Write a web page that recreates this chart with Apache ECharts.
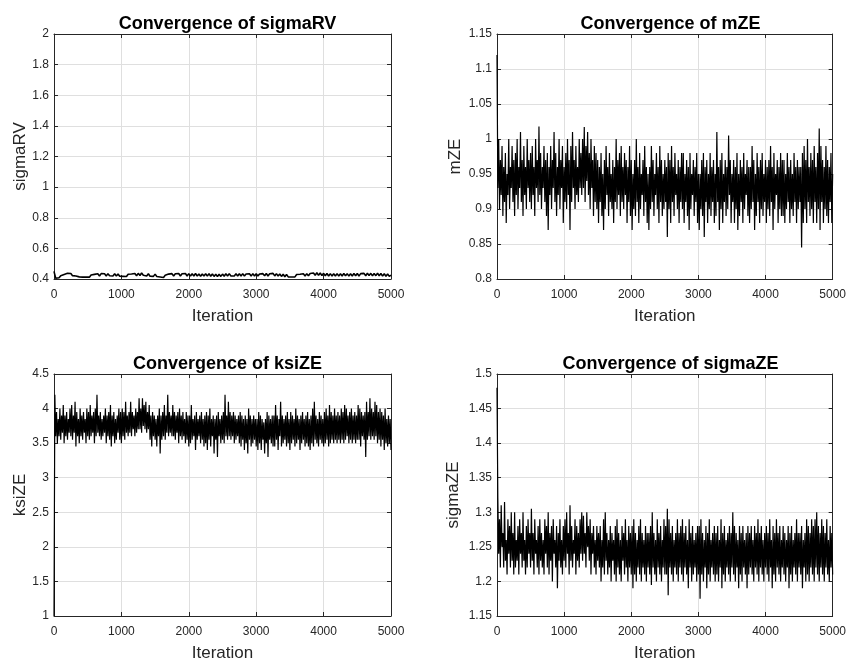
<!DOCTYPE html>
<html>
<head>
<meta charset="utf-8">
<script src="https://cdn.jsdelivr.net/npm/echarts@6/dist/echarts.min.js"></script>
<style>
html,body{margin:0;padding:0;background:#fff;}
#chart{width:849px;height:663px;}
</style>
</head>
<body>
<div id="chart"></div>
<script>
// ---- data (one sample every iterStep[i] iterations) ----
const iterStep = [25, 12.5, 12.5, 12.5];
const xTicks = [0, 1000, 2000, 3000, 4000, 5000];

const titles = ["Convergence of sigmaRV", "Convergence of mZE", "Convergence of ksiZE", "Convergence of sigmaZE"];
const yNames = ["sigmaRV", "mZE", "ksiZE", "sigmaZE"];
const yMin = [0.4, 0.8, 1, 1.15];
const yMax = [2, 1.15, 4.5, 1.5];
const yStep = [0.2, 0.05, 0.5, 0.05];

const sigmaRV = [
0.45,0.405,0.418,0.408,0.422,0.418,0.43,0.422,0.437,0.424,
0.436,0.422,0.434,0.42,0.428,0.414,0.425,0.412,0.424,0.413,
0.423,0.412,0.426,0.416,0.43,0.42,0.434,0.42,0.435,0.422,
0.434,0.42,0.435,0.421,0.433,0.42,0.434,0.419,0.433,0.418,
0.431,0.417,0.43,0.416,0.431,0.418,0.433,0.42,0.436,0.421,
0.437,0.423,0.439,0.424,0.437,0.42,0.434,0.418,0.431,0.417,
0.432,0.416,0.429,0.413,0.426,0.41,0.424,0.412,0.432,0.419,
0.435,0.42,0.434,0.421,0.436,0.42,0.434,0.421,0.436,0.42,
0.435,0.419,0.434,0.42,0.436,0.419,0.433,0.418,0.433,0.419,
0.434,0.419,0.435,0.418,0.433,0.417,0.431,0.416,0.431,0.417,
0.432,0.418,0.434,0.42,0.435,0.42,0.433,0.42,0.434,0.419,
0.434,0.42,0.435,0.419,0.433,0.42,0.434,0.419,0.435,0.42,
0.434,0.419,0.433,0.42,0.435,0.421,0.436,0.42,0.434,0.421,
0.437,0.42,0.435,0.419,0.433,0.417,0.431,0.415,0.429,0.414,
0.427,0.413,0.426,0.414,0.429,0.416,0.431,0.418,0.434,0.42,
0.435,0.421,0.436,0.423,0.439,0.425,0.441,0.424,0.439,0.422,
0.437,0.421,0.436,0.42,0.435,0.419,0.434,0.42,0.435,0.42,
0.434,0.42,0.436,0.421,0.435,0.419,0.434,0.42,0.436,0.421,
0.436,0.42,0.435,0.422,0.437,0.421,0.438,0.422,0.437,0.421,
0.436,0.422,0.438,0.421,0.436,0.419,0.434,0.418,0.433,0.417,
0.425
];

const mZE = [
1.12,
0.93,1.00,0.90,0.97,0.92,0.99,0.89,0.96,0.91,0.98,0.88,0.95,0.92,1.00,0.90,0.96,0.93,0.99,0.91,0.97,
0.89,0.98,0.92,1.00,0.90,0.96,0.93,1.01,0.91,0.97,0.89,0.99,0.92,0.96,0.90,1.00,0.93,0.97,0.91,0.98,
0.90,0.99,0.92,0.96,0.89,1.00,0.93,0.97,0.91,1.018,0.92,0.98,0.90,0.96,0.93,0.99,0.91,0.97,0.89,0.98,
0.87,0.96,0.92,0.99,0.90,0.97,0.93,1.01,0.91,0.98,0.89,0.96,0.92,1.00,0.90,0.97,0.93,0.99,0.88,0.96,
0.91,0.98,0.90,1.00,0.92,0.97,0.87,0.99,0.91,1.01,0.93,0.97,0.90,0.99,0.92,0.96,0.91,1.00,0.93,0.98,
0.92,1.00,0.93,1.017,0.91,0.99,0.94,1.01,0.92,0.98,0.90,1.00,0.93,0.97,0.89,0.99,0.91,0.98,0.90,0.97,
0.88,0.96,0.91,0.98,0.89,0.95,0.87,0.97,0.90,0.99,0.92,0.96,0.89,0.98,0.91,0.95,0.90,0.97,0.88,0.96,
0.91,1.00,0.90,0.97,0.92,0.98,0.89,0.99,0.91,0.96,0.90,0.98,0.92,0.97,0.88,0.96,0.91,0.99,0.89,0.97,
0.87,0.95,0.90,0.97,0.89,1.00,0.91,0.96,0.88,0.98,0.90,0.95,0.92,0.97,0.89,0.99,0.91,0.96,0.88,0.95,
0.87,0.96,0.90,0.99,0.91,0.97,0.89,0.95,0.92,0.98,0.90,0.96,0.88,0.99,0.91,0.97,0.89,0.95,0.90,0.97,
0.91,0.96,0.86,0.98,0.90,0.97,0.88,0.99,0.91,0.96,0.89,0.98,0.92,0.95,0.90,0.97,0.88,0.96,0.91,0.98,
0.90,0.98,0.88,0.95,0.91,0.97,0.89,0.96,0.87,0.98,0.90,0.95,0.92,0.97,0.89,0.96,0.91,0.98,0.88,0.95,
0.87,0.95,0.90,0.97,0.89,0.98,0.86,0.96,0.91,0.97,0.88,0.95,0.90,0.98,0.89,0.96,0.91,0.97,0.88,0.95,
0.89,1.01,0.91,0.96,0.87,0.97,0.90,0.98,0.88,0.95,0.91,0.97,0.89,0.96,0.90,1.005,0.92,0.97,0.88,0.95,
0.91,0.97,0.88,0.96,0.90,0.98,0.87,0.95,0.89,0.97,0.91,0.96,0.88,0.98,0.90,0.95,0.92,0.97,0.89,0.96,
0.88,0.96,0.90,0.99,0.91,0.97,0.87,0.95,0.89,0.98,0.91,0.96,0.88,0.97,0.90,0.98,0.89,0.95,0.91,0.97,
0.88,0.96,0.90,0.97,0.89,0.99,0.91,0.96,0.87,0.98,0.90,0.95,0.92,0.97,0.88,0.96,0.90,0.98,0.89,0.97,
0.89,0.97,0.88,0.95,0.90,0.98,0.91,0.96,0.88,0.97,0.90,0.95,0.89,0.98,0.91,0.96,0.88,0.97,0.90,0.96,
0.91,0.96,0.845,0.98,0.88,0.99,0.90,0.97,0.88,1.00,0.91,0.96,0.89,0.98,0.90,0.97,0.88,0.99,0.91,0.96,
0.88,0.98,0.90,1.015,0.87,0.99,0.91,0.97,0.88,0.96,0.90,0.99,0.89,0.97,0.88,0.96,0.91,0.98,0.88,0.95
];

const ksiZE = [
1.0,
4.2,3.6,3.95,3.5,3.85,3.6,4.0,3.55,3.9,3.65,4.05,3.5,3.9,3.6,3.95,3.55,3.85,3.65,4.0,3.6,
4.05,3.55,3.9,3.65,4.1,3.45,3.95,3.6,3.85,3.5,4.0,3.6,3.9,3.55,3.95,3.65,3.85,3.5,4.0,3.6,
3.95,3.55,4.05,3.6,3.9,3.65,3.95,3.5,4.0,3.6,4.2,3.65,3.9,3.6,3.95,3.55,3.85,3.6,3.9,3.65,
4.0,3.5,3.9,3.6,3.95,3.55,4.05,3.45,3.9,3.6,3.95,3.5,3.85,3.55,3.9,3.65,4.0,3.55,3.95,3.5,
4.0,3.6,3.95,3.55,4.1,3.65,3.9,3.6,3.95,3.65,4.1,3.6,3.95,3.7,3.9,3.6,4.0,3.65,3.95,3.7,
4.15,3.7,4.0,3.65,4.15,3.75,4.05,3.7,4.1,3.65,3.95,3.7,4.05,3.55,3.9,3.45,3.95,3.6,3.9,3.55,
3.85,3.45,3.9,3.6,4.0,3.35,3.9,3.55,3.95,3.6,4.05,3.55,3.9,3.65,4.2,3.6,3.95,3.65,3.9,3.6,
4.05,3.6,3.95,3.55,3.9,3.65,3.95,3.5,4.0,3.6,3.9,3.55,3.95,3.6,3.85,3.5,3.95,3.55,3.9,3.45,
3.9,3.5,4.05,3.55,3.85,3.6,3.9,3.4,3.95,3.55,3.85,3.6,3.9,3.5,3.95,3.55,3.85,3.45,3.9,3.5,
3.95,3.4,3.9,3.55,4.0,3.45,3.85,3.6,3.9,3.35,3.85,3.55,3.9,3.3,3.95,3.6,3.85,3.5,3.9,3.55,
3.95,3.5,4.2,3.6,3.9,3.55,4.1,3.6,3.95,3.55,3.9,3.6,3.95,3.5,3.9,3.55,3.85,3.6,3.9,3.5,
3.95,3.45,3.9,3.55,3.85,3.4,3.9,3.5,3.85,3.35,4.0,3.55,3.9,3.45,3.85,3.5,3.9,3.55,3.85,3.45,
3.85,3.4,3.95,3.5,3.9,3.4,3.85,3.55,3.8,3.35,3.85,3.5,3.95,3.3,3.9,3.55,3.85,3.5,3.9,3.45,
3.9,3.45,4.05,3.55,3.9,3.4,3.85,3.6,4.1,3.45,3.9,3.5,3.85,3.55,3.9,3.45,3.95,3.5,3.85,3.4,
3.95,3.5,3.9,3.55,3.85,3.45,4.0,3.5,3.9,3.55,3.85,3.4,3.9,3.5,3.95,3.55,3.85,3.45,3.9,3.5,
3.95,3.45,3.85,3.4,3.9,3.5,4.0,3.45,4.1,3.55,3.9,3.5,3.85,3.45,3.95,3.55,3.9,3.5,3.85,3.45,
3.95,3.5,4.0,3.55,3.9,3.45,4.05,3.5,3.95,3.55,3.9,3.5,4.0,3.55,3.9,3.5,3.95,3.55,3.9,3.5,
4.0,3.55,3.95,3.5,4.05,3.55,4.0,3.6,3.9,3.5,3.95,3.55,4.0,3.5,3.9,3.55,3.95,3.5,3.9,3.55,
4.05,3.55,4.0,3.45,3.95,3.6,3.9,3.55,3.95,3.3,4.1,3.55,3.95,3.6,4.15,3.55,4.0,3.6,3.95,3.55,
4.1,3.6,4.05,3.5,3.95,3.55,4.0,3.45,3.95,3.55,3.9,3.4,4.0,3.5,3.85,3.45,3.9,3.5,3.85,3.4
];

const sigmaZE = [
1.48,
1.32,1.24,1.29,1.22,1.31,1.25,1.27,1.22,1.315,1.23,1.26,1.21,1.29,1.24,1.28,1.22,1.30,1.23,1.27,1.21,
1.30,1.22,1.26,1.23,1.28,1.21,1.29,1.24,1.27,1.22,1.30,1.23,1.26,1.21,1.28,1.22,1.29,1.24,1.27,1.22,
1.305,1.23,1.27,1.21,1.29,1.24,1.26,1.22,1.28,1.21,1.29,1.23,1.27,1.22,1.26,1.21,1.29,1.24,1.28,1.22,
1.30,1.21,1.27,1.23,1.28,1.20,1.29,1.24,1.26,1.22,1.28,1.19,1.27,1.23,1.29,1.22,1.26,1.21,1.28,1.23,
1.29,1.22,1.30,1.24,1.27,1.21,1.31,1.23,1.28,1.22,1.26,1.24,1.29,1.21,1.28,1.23,1.27,1.22,1.29,1.24,
1.30,1.23,1.295,1.24,1.27,1.22,1.30,1.25,1.28,1.23,1.29,1.21,1.27,1.24,1.28,1.22,1.26,1.21,1.28,1.23,
1.27,1.22,1.28,1.20,1.26,1.22,1.29,1.21,1.30,1.23,1.27,1.21,1.26,1.22,1.28,1.20,1.27,1.23,1.26,1.21,
1.28,1.20,1.29,1.22,1.27,1.21,1.26,1.20,1.28,1.23,1.27,1.21,1.29,1.22,1.26,1.20,1.28,1.22,1.27,1.21,
1.28,1.19,1.29,1.21,1.27,1.20,1.26,1.22,1.28,1.21,1.29,1.20,1.27,1.22,1.26,1.21,1.28,1.20,1.27,1.22,
1.27,1.21,1.28,1.195,1.30,1.22,1.27,1.21,1.26,1.20,1.29,1.22,1.27,1.21,1.28,1.20,1.26,1.22,1.29,1.21,
1.28,1.21,1.305,1.18,1.29,1.22,1.27,1.21,1.28,1.20,1.26,1.22,1.27,1.21,1.29,1.20,1.27,1.22,1.28,1.21,
1.29,1.20,1.27,1.22,1.28,1.21,1.26,1.19,1.29,1.22,1.27,1.20,1.28,1.21,1.26,1.22,1.27,1.20,1.28,1.21,
1.28,1.175,1.29,1.21,1.27,1.20,1.26,1.22,1.28,1.19,1.27,1.21,1.29,1.20,1.26,1.22,1.27,1.21,1.28,1.20,
1.27,1.21,1.28,1.20,1.26,1.22,1.29,1.19,1.27,1.21,1.28,1.20,1.26,1.22,1.27,1.21,1.28,1.20,1.27,1.22,
1.30,1.21,1.28,1.20,1.27,1.22,1.26,1.19,1.28,1.21,1.27,1.20,1.28,1.22,1.26,1.21,1.27,1.19,1.28,1.21,
1.27,1.22,1.28,1.21,1.26,1.20,1.28,1.22,1.27,1.21,1.29,1.20,1.27,1.22,1.28,1.21,1.26,1.20,1.27,1.22,
1.28,1.21,1.27,1.20,1.29,1.22,1.26,1.19,1.28,1.21,1.27,1.20,1.29,1.22,1.27,1.21,1.28,1.20,1.26,1.22,
1.28,1.21,1.27,1.20,1.26,1.22,1.28,1.19,1.27,1.21,1.28,1.20,1.26,1.22,1.27,1.21,1.29,1.20,1.27,1.22,
1.27,1.21,1.28,1.19,1.26,1.22,1.27,1.20,1.29,1.21,1.28,1.20,1.27,1.22,1.29,1.21,1.28,1.20,1.29,1.22,
1.30,1.21,1.28,1.20,1.27,1.22,1.29,1.21,1.28,1.20,1.27,1.22,1.29,1.21,1.26,1.20,1.28,1.22,1.27,1.21
];

const seriesValues = [sigmaRV, mZE, ksiZE, sigmaZE];

// ---- layout ----
const grids = [
  {left: 54, top: 34, width: 337, height: 245},
  {left: 497, top: 34, width: 337, height: 245},
  {left: 54, top: 374, width: 337, height: 245},
  {left: 497, top: 374, width: 337, height: 245}
];
const yNameGap = [24, 33, 25, 35];
const FONT = 'Liberation Sans, Arial, Helvetica, sans-serif';
const AX = '#262626';
const GRIDC = '#dfdfdf';

const xAxes = [], yAxes = [], series = [], title = [];
grids.forEach((g, i) => {
  title.push({
    text: titles[i], left: g.left + g.width / 2, top: g.top - 24, textAlign: 'center',
    textStyle: {fontFamily: FONT, fontSize: 18, fontWeight: 'bold', color: '#000'}
  });
  const xBase = {
    type: 'value', gridIndex: i, min: xTicks[0], max: xTicks[xTicks.length - 1], interval: 1000,
    axisLine: {show: true, onZero: false, lineStyle: {color: AX, width: 1}},
    axisTick: {show: true, inside: true, length: 4, lineStyle: {color: AX}}
  };
  xAxes.push(Object.assign({}, xBase, {
    position: 'bottom',
    name: 'Iteration', nameLocation: 'middle', nameGap: 29,
    nameTextStyle: {fontFamily: FONT, fontSize: 17, color: AX},
    axisLabel: {fontFamily: FONT, fontSize: 12, color: AX, margin: 10, formatter: v => String(v)},
    splitLine: {show: true, lineStyle: {color: GRIDC, width: 1}}
  }));
  xAxes.push(Object.assign({}, xBase, {
    position: 'top', axisLabel: {show: false}, splitLine: {show: false}
  }));
  const yBase = {
    type: 'value', gridIndex: i, min: yMin[i], max: yMax[i], interval: yStep[i],
    axisLine: {show: true, onZero: false, lineStyle: {color: AX, width: 1}},
    axisTick: {show: true, inside: true, length: 4, lineStyle: {color: AX}}
  };
  yAxes.push(Object.assign({}, yBase, {
    position: 'left',
    name: yNames[i], nameLocation: 'middle', nameGap: yNameGap[i],
    nameTextStyle: {fontFamily: FONT, fontSize: 17, color: AX},
    axisLabel: {fontFamily: FONT, fontSize: 12, color: AX, margin: 5},
    splitLine: {show: true, lineStyle: {color: GRIDC, width: 1}}
  }));
  yAxes.push(Object.assign({}, yBase, {
    position: 'right', axisLabel: {show: false}, splitLine: {show: false}
  }));
  series.push({
    type: 'line', xAxisIndex: 2 * i, yAxisIndex: 2 * i,
    data: seriesValues[i].map((v, k) => [k * iterStep[i], v]),
    showSymbol: false, symbol: 'none', sampling: null, clip: true,
    lineStyle: {color: '#000', width: i === 0 ? 1.6 : 1.2}, silent: true
  });
});

const chart = echarts.init(document.getElementById('chart'), null, {renderer: 'canvas'});
chart.setOption({
  animation: false,
  backgroundColor: '#fff',
  title: title,
  grid: grids,
  xAxis: xAxes,
  yAxis: yAxes,
  series: series
});
</script>
</body>
</html>
